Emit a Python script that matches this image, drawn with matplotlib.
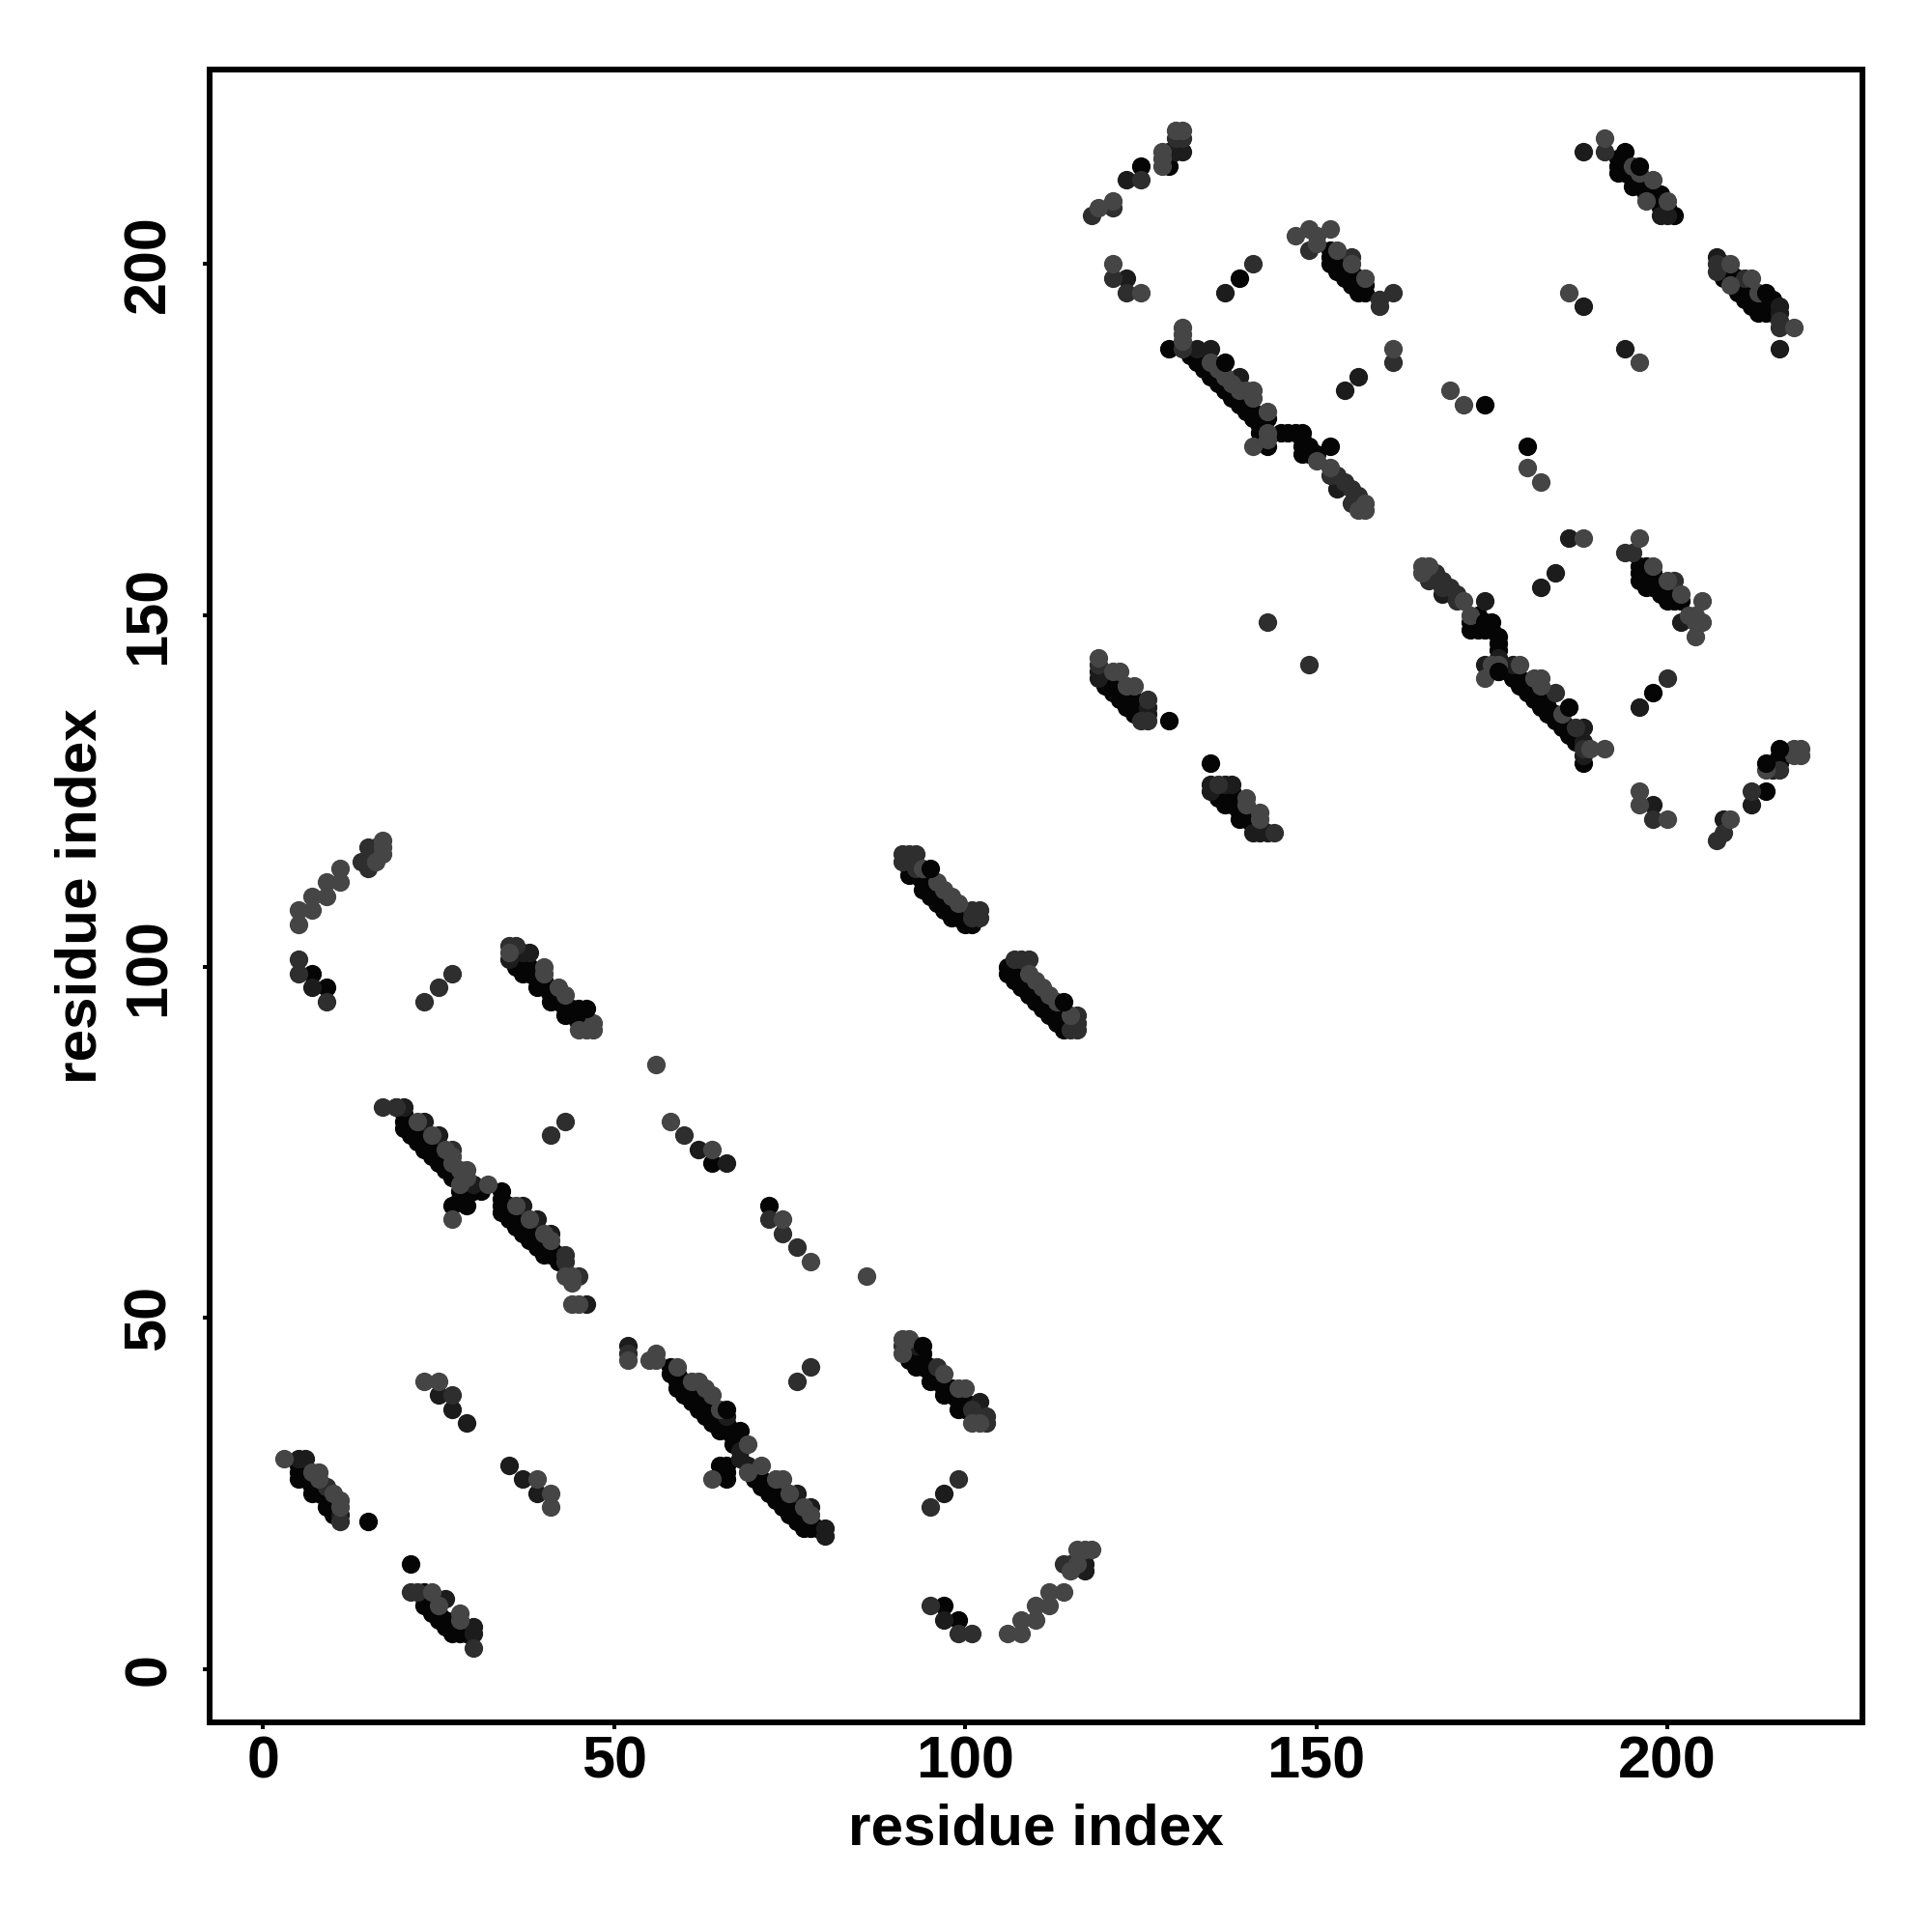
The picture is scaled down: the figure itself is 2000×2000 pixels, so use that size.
import matplotlib
matplotlib.use("Agg")
import matplotlib.pyplot as plt

plt.rcParams["font.family"] = ["Liberation Sans", "DejaVu Sans"]

# contacts as (residue x, residue y), grouped by grey level
BLACK = [
    (5,29),(5,28),(5,27),(6,28),(6,27),(7,26),(7,25),(8,26),(8,25),(9,24),(9,23),(10,24),(10,23),(10,22),
    (15,21),(21,15),(23,11),(23,10),(23,9),(24,9),(24,8),(25,8),(25,7),(26,7),(26,6),(27,6),(27,5),(28,6),(28,5),(29,5),
    (59,40),(60,41),(60,40),(60,39),(61,39),(61,38),(62,38),(62,37),(63,37),(63,36),(64,36),(64,35),(65,35),(65,34),(66,35),(66,34),
    (67,34),(67,33),(67,32),(68,34),(65,29),(66,29),(66,28),(66,27),(70,27),(70,28),(71,26),(71,27),(72,26),(72,25),(73,25),(73,24),
    (74,24),(74,23),(75,23),(75,22),(76,22),(76,21),(77,21),(77,20),(78,21),(78,20),(79,20),(58,43),(58,42),(59,42),(59,41),
    (92,45),(92,44),(93,44),(93,43),(94,45),(94,44),(94,43),(95,43),(95,42),(95,41),(96,42),(96,41),(97,40),(97,39),(98,40),(98,39),
    (99,38),(99,37),(100,38),(100,37),(97,9),(99,7),
    (7,99),(9,97),(36,101),(36,100),(37,101),(37,100),(37,99),(38,100),(38,99),(39,98),(39,97),(40,98),(40,97),(41,96),(41,95),
    (42,96),(42,95),(43,94),(43,93),(44,94),(44,93),(45,93),(45,92),
    (20,79),(20,78),(20,77),(21,77),(21,76),(22,76),(22,75),(23,75),(23,74),(24,74),(24,73),(25,73),(25,72),(26,72),(26,71),(27,71),(27,70),
    (28,70),(29,69),(29,68),(30,68),(31,68),(28,68),(27,66),(29,66),(28,67),(34,67),(34,66),(34,65),(35,66),(35,65),(35,64),(36,65),(36,64),(36,63),
    (37,64),(37,63),(37,62),(38,62),(38,61),(39,61),(39,60),(40,60),(40,59),(41,60),(41,59),(42,59),(42,58),(34,68),
    (72,66),(64,72),
    (92,114),(92,113),(93,114),(93,113),(94,112),(94,111),(95,112),(95,111),(95,110),(96,110),(96,109),(97,110),(97,109),(97,108),(98,108),(98,107),
    (99,108),(99,107),(100,107),(100,106),(101,106),
    (106,100),(106,99),(107,99),(107,98),(108,98),(108,97),(109,97),(109,96),(110,96),(110,95),(111,95),(111,94),(112,94),(112,93),(113,93),(113,92),
    (114,92),(114,91),(115,92),
    (120,141),(120,140),(121,141),(121,140),(121,139),(122,140),(122,139),(122,138),(123,138),(123,137),(124,138),(124,137),(124,136),(125,137),(125,136),
    (129,135),(135,129),(136,125),(136,124),(137,125),(137,124),(137,123),(138,125),(138,124),(138,123),(139,123),(139,122),(139,121),(140,122),(140,121),
    (141,121),(141,120),(142,120),
    (172,149),(172,148),(173,150),(173,149),(173,148),(174,149),(174,148),(175,149),(175,148),(176,147),(176,146),(176,145),(176,142),
    (178,142),(178,141),(179,141),(179,140),(180,140),(180,139),(181,139),(181,138),(182,138),(182,137),(183,137),(183,136),(184,136),(184,135),
    (185,135),(185,134),(186,134),(186,133),(187,133),(187,132),(188,129),(198,139),
    (196,157),(196,156),(196,155),(197,157),(197,156),(197,155),(197,154),(198,156),(198,155),(198,154),(199,154),(199,153),(200,153),(200,152),(201,153),(201,152),(202,152),
    (214,125),(216,130),(216,129),(215,129),
    (125,214),(129,216),(129,214),(152,202),(152,201),(152,200),(153,201),(153,200),(153,199),(154,200),(154,199),(154,198),(155,199),(155,198),(155,197),
    (156,198),(156,197),(156,196),(157,197),(157,196),(139,198),
    (129,188),(132,187),(133,187),(133,186),(134,186),(134,185),(135,185),(135,184),(136,184),(136,183),(137,183),(137,182),(138,182),(138,181),(139,181),(139,180),
    (140,180),(140,179),(141,179),(141,178),(142,178),(142,177),(143,178),(142,176),(143,174),
    (145,176),(146,176),(147,176),(148,176),(148,175),(148,174),(148,173),(149,174),(149,173),(150,173),(174,180),(180,174),
    (193,215),(193,214),(193,213),(194,216),(194,214),(194,213),(195,213),(195,212),(195,211),(196,212),(196,211),(197,211),(197,210),(198,210),(199,210),(199,209),(199,208),(200,208),(201,207),
    (208,200),(208,199),(208,198),(209,199),(209,198),(210,198),(210,197),(210,196),(211,197),(211,196),(211,195),(212,196),(212,195),(212,194),(213,195),(213,194),(213,193),
    (214,195),(214,194),(214,193),(215,195),(215,194),(215,193),
]
DARK = [
    (5,30),(6,30),(11,22),(25,39),(27,37),(29,35),(35,29),(37,27),(39,25),(26,10),(30,6),(30,5),
    (52,46),(93,46),(97,7),(97,25),(102,38),(69,29),(68,31),(68,30),(66,36),(76,25),(78,23),(80,20),(80,19),(117,14),(117,15),
    (7,97),(37,102),(38,102),(35,101),(20,80),(19,80),(23,78),(25,76),(30,69),(37,66),(39,64),(41,62),(46,52),(62,74),(66,72),
    (119,142),(119,141),(126,137),(126,136),(135,126),(135,125),(137,126),(138,126),(141,119),(143,119),(142,119),
    (168,153),(174,152),(174,143),(176,144),(178,143),(188,134),(188,132),(188,130),(196,137),(198,123),(123,198),(208,121),(212,123),
    (123,212),(130,216),(131,216),(137,196),(133,188),(135,188),(154,182),(156,184),(188,216),(186,161),(182,154),(184,156),(199,207),(200,207),
    (207,201),(216,193),(216,194),(216,188),(194,188),(188,194),(139,184),(215,128),(202,149),(153,168),
]
MID = [
    (9,26),(11,21),(21,11),(22,11),(52,45),(27,39),(30,3),(76,41),(78,43),(91,46),(96,43),(101,37),(103,36),(103,35),
    (95,9),(99,5),(101,5),(95,23),(99,27),(114,15),(115,15),
    (5,101),(5,99),(9,95),(23,95),(25,97),(27,99),(35,103),(36,103),(14,115),(15,114),(15,117),(16,117),
    (17,80),(19,80),(27,74),(43,59),(43,58),(45,56),(41,76),(43,78),(60,76),(74,62),(76,60),(72,64),
    (91,116),(92,116),(93,116),(91,115),(93,114),(101,108),(101,107),(102,108),(102,107),(107,101),(108,101),(109,101),(116,93),(116,92),(116,91),(115,91),
    (119,143),(126,138),(126,135),(125,135),(136,126),(143,149),(149,143),(144,119),
    (167,156),(168,155),(169,154),(170,153),(170,152),(166,155),(168,154),(187,134),(184,139),
    (118,207),(121,208),(125,212),(130,218),(131,218),(121,198),(123,196),(141,200),(149,202),(155,201),(159,195),(159,194),(161,196),(161,186),
    (131,188),(152,170),(153,170),(154,169),(155,168),(155,166),(156,167),(201,155),
    (194,159),(195,159),(200,141),(198,121),(207,118),(208,119),(212,125),(216,128),(216,191),(216,192),(207,200),(207,199),(211,198),(191,216),(188,131),
]
LIGHT = [
    (3,30),(7,28),(8,28),(8,27),(10,25),(11,24),(11,23),(23,41),(25,41),(24,11),(28,8),(28,7),(25,9),(39,27),(41,25),(41,23),(44,52),(45,52),
    (52,44),(55,44),(56,45),(56,44),(59,43),(61,41),(62,41),(63,40),(64,39),(65,37),(69,32),(64,27),(69,28),(71,29),(73,27),(74,27),(75,25),(77,23),(78,22),
    (91,47),(92,47),(91,45),(97,42),(99,40),(100,40),(101,35),(102,35),(78,58),(86,56),
    (106,5),(108,5),(108,7),(110,7),(110,9),(112,9),(112,11),(114,11),(115,14),(116,17),(117,17),(118,17),(116,15),
    (5,106),(5,108),(7,108),(7,110),(9,110),(9,112),(11,112),(11,114),(16,115),(17,118),(17,117),(17,116),
    (35,102),(40,100),(40,99),(42,97),(43,96),(47,92),(47,91),(46,91),(45,91),(56,86),
    (22,78),(24,76),(26,74),(27,73),(27,72),(28,71),(29,71),(29,70),(32,69),(28,69),(27,64),(36,66),(38,64),(40,62),(41,61),(44,56),(43,56),(44,55),
    (58,78),(64,74),(74,64),
    (94,114),(96,112),(97,111),(98,110),(99,109),(109,99),(110,98),(111,97),(112,96),(113,95),(115,93),
    (119,144),(121,142),(122,142),(123,140),(124,140),(140,124),(140,123),(142,122),(142,121),
    (165,157),(166,157),(165,156),(171,152),(172,150),(175,143),(176,143),(174,141),(179,143),(181,141),(182,141),(182,140),(185,136),
    (189,131),(191,131),(188,161),(196,161),(198,157),(200,155),(202,153),(205,152),(203,150),(204,150),(205,149),(204,149),(204,147),
    (196,125),(196,123),(200,121),(209,121),(214,128),(218,130),(218,131),(219,131),(219,130),
    (119,208),(121,209),(128,214),(128,216),(128,215),(130,219),(131,219),(121,200),(125,196),
    (147,204),(149,205),(152,205),(150,204),(150,203),(153,202),(155,200),(157,198),
    (131,191),(131,190),(131,189),(135,186),(136,185),(137,184),(138,183),(139,182),(140,182),(141,182),(141,181),(143,179),(143,176),(143,175),(141,174),(150,172),
    (152,171),(156,165),(157,166),(157,165),(161,188),(169,182),(171,180),(180,171),(182,169),
    (186,196),(191,218),(195,214),(196,213),(198,212),(197,209),(200,209),(196,186),(209,200),(209,197),(212,198),(213,196),(218,191),
]
# the few near-black points that sit over the lighter ones
BLACK_TOP = [
    (46,94),(45,94),(66,37),(95,114),(114,95),(186,137),(196,214),(214,196),(216,131),(214,129),(174,149),(137,186),(152,174),(176,142),(94,46),
]

GREYS = ["0.02", "0.11", "0.18", "0.27", "0.02"]
X_TICKS = [0, 50, 100, 150, 200]
Y_TICKS = [0, 50, 100, 150, 200]
AXIS_LABEL = "residue index"


def main():
    fig = plt.figure(figsize=(10, 10), dpi=200)
    ax = fig.add_axes([217 / 2000, 1 - 1783 / 2000, 1711 / 2000, 1711 / 2000])

    for points, grey in zip([BLACK, DARK, MID, LIGHT, BLACK_TOP], GREYS):
        xs = [p[0] for p in points]
        ys = [p[1] for p in points]
        ax.scatter(xs, ys, s=48, c=grey, linewidths=0, zorder=3)

    ax.set_xlim(-7.6, 227.8)
    ax.set_ylim(-7.6, 227.7)
    ax.set_xticks(X_TICKS)
    ax.set_yticks(Y_TICKS)
    ax.tick_params(axis="both", length=2.4, width=1.45, labelsize=22, direction="out")
    ax.tick_params(axis="x", pad=2.6)
    ax.tick_params(axis="y", pad=9.6)
    for label in ax.get_xticklabels():
        label.set_fontweight("bold")
    for label in ax.get_yticklabels():
        label.set_fontweight("bold")
        label.set_rotation(90)
        label.set_va("center")
    for spine in ax.spines.values():
        spine.set_linewidth(2.15)

    ax.set_xlabel(AXIS_LABEL, fontsize=21.7, fontweight="bold")
    ax.set_ylabel(AXIS_LABEL, fontsize=21.7, fontweight="bold")
    ax.xaxis.set_label_coords(0.5, -0.049)
    ax.yaxis.set_label_coords(-0.0616, 0.5)

    fig.savefig("out.png", dpi=200, facecolor="white")


if __name__ == "__main__":
    main()
